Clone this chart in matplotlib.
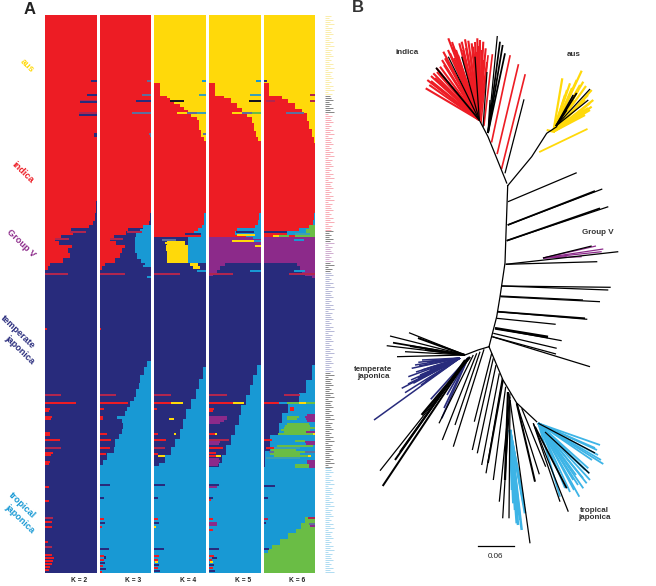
import matplotlib
matplotlib.use('Agg')
import matplotlib.pyplot as plt

plt.rcParams['font.family'] = ['Liberation Sans', 'DejaVu Sans']

W, H = 656, 586
RED = '#ED1C24'
NAVY = '#282B7C'
BLUE = '#1899D4'
YEL = '#FFD90A'
PUR = '#8C2A8A'
GRN = '#6ABD45'
CRIM = '#B0264F'
GRAY = '#5F6F9C'
TEAL = '#3BA0B4'
BLK = '#15151F'
SKY = '#3DB4E6'

N_ROWS = 279
k_labels = ['K = 2', 'K = 3', 'K = 4', 'K = 5', 'K = 6']
panel_left = [45, 99.7, 154.3, 209, 263.7]

# red/navy edge at the indica - group V end
k2_rows = [0, 93, 99, 103, 105, 106.7, 108.3, 110, 111.7, 113.3, 115, 116.7, 119, 121.7, 124, 125.8, 127.5]
k2_edge = [1, .99, .97, .93, .86, .5, .55, .32, .2, .28, .52, .45, .48, .35, .1, .05]
k3_edge = [1, .99, .97, .95, .88, .55, .52, .28, .2, .32, .5, .43, .4, .3, .1, .04]

# red and yellow edges, K=4..6
k4_red_rows = [40.5, 41.5, 43, 44.5, 46, 47.5, 49, 51, 52.5, 57.5, 61, 63.3, 111]
k4_red_edge = [.25, .3, .38, .5, .57, .65, .72, .82, .87, .91, .96, 1]
k5_red_rows = [40.5, 41.5, 44, 46.5, 49, 51, 54, 58, 61, 63.3, 111]
k5_red_edge = [.3, .42, .54, .64, .74, .83, .88, .92, .95, 1]
k6_red_rows = [40.5, 42, 44, 47, 49, 53, 57, 61, 64, 111]
k6_red_edge = [.35, .48, .61, .74, .84, .87, .93, .97, 1]

# low end of the red block, right side
red_end_rows = [92.5, 99, 102.5, 105, 106.7, 108.3, 110, 111]
k4_red_end = [1, .97, .96, .92, .84, .78, .9]
k5_red_end = [1, .97, .96, .9, .55, .5, .72]
k6_red_end = [1, .97, .95, .9, .68, .45, .7]

# navy/blue edge in the temperate japonica block
k3_blue_rows = [171, 173, 176, 180, 184, 187, 191, 193, 196, 198, 200.5, 202, 204, 207, 209.5, 212, 216, 219, 222.5, 225]
k3_blue_edge = [1, .92, .86, .79, .76, .71, .66, .59, .53, .5, .33, .43, .46, .43, .37, .3, .27, .14, .06]
k4_blue_rows = [171, 176, 182, 187, 192, 197, 202, 207, 212, 216, 220, 224, 225.5]
k4_blue_edge = [1, .95, .86, .8, .72, .62, .55, .5, .4, .33, .2, .1]
k5_blue_rows = [171, 175, 180, 185, 190, 195, 200, 205, 210, 215, 220, 224, 226]
k5_blue_edge = [1, .93, .85, .8, .72, .63, .58, .5, .42, .33, .25, .2]
k6_blue_rows = [171, 175, 182.5, 189, 194, 199, 204, 210, 218, 226]
k6_blue_edge = [1, .93, .82, .68, .48, .35, .29, .13, .03]

# green block at the bottom of K=6
k6_green_rows = [251, 254, 257, 259, 262, 265, 267, 269]
k6_green_edge = [.8, .72, .62, .48, .32, .17, .09]

# purple shoulder, K=5 left and K=6 right
k5_purple_rows = [111, 124, 125.8, 127.5, 129, 130.5]
k5_purple_edge = [1, .31, .21, .15, .08]
k6_navy_rows = [124, 125.8, 127.5, 129, 130.5]
k6_navy_edge = [.64, .71, .74, .8]

# single accessions: row, from, to, colour
upper_k2 = [(32.8, .9, 1, NAVY), (39.7, .82, 1, NAVY), (42.5, .67, 1, CRIM), (43.3, .67, 1, NAVY),
            (48.8, .66, 1, CRIM), (49.6, .66, 1, NAVY), (59.2, .95, 1, NAVY), (60, .95, 1, NAVY),
            (108.3, .48, .8, CRIM), (111.7, .2, .46, CRIM), (129.2, 0, .45, CRIM)]
upper_k3 = [(32.8, .92, 1, GRAY), (39.7, .82, 1, GRAY), (42.5, .7, 1, NAVY), (48.8, .63, 1, GRAY),
            (59.2, .95, 1, GRAY), (60, .97, 1, GRAY), (108.3, .53, .82, CRIM), (111.7, .2, .46, CRIM),
            (129.2, 0, .5, CRIM), (130.5, .92, 1, BLUE), (125, .85, 1, BLUE)]
upper_k4 = [(32.8, .92, 1, BLUE), (39.7, .87, 1, TEAL), (42.5, .3, .58, BLK), (48.8, .44, .63, YEL),
            (48.8, .63, .82, GRAY), (48.8, .82, 1, TEAL), (59.2, .95, 1, GRAY), (112, .14, .43, GRAY),
            (113.5, .2, .55, YEL), (109, .6, .9, NAVY), (129.2, 0, .5, CRIM), (127.5, .82, 1, BLUE)]
upper_k5 = [(32.8, .92, 1, BLUE), (39.7, .8, 1, TEAL), (42.5, .77, 1, BLK), (48.8, .44, .64, YEL),
            (48.8, .64, .83, GRAY), (48.8, .83, 1, GRN), (108, .52, .87, NAVY), (109.8, .55, .9, YEL),
            (112.5, .44, .87, YEL), (112.5, .87, 1, BLUE), (111, .86, 1, BLUE), (115, .9, 1, YEL),
            (129.2, 0, .47, CRIM), (127.5, .8, 1, BLUE)]
upper_k6 = [(32.8, 0, .06, NAVY), (39.7, .9, 1, CRIM), (42.5, .05, .22, CRIM), (42.5, .9, 1, CRIM),
            (48.8, .44, .79, GRAY), (108, 0, .45, NAVY), (110, .18, .3, YEL), (110, .3, .5, GRN),
            (109, .6, .9, TEAL), (112, .58, .78, BLUE), (129.2, .5, 1, CRIM), (127.5, .58, .8, BLUE)]

lower_k2 = [(156.7, 0, .03, RED), (189.5, 0, .32, CRIM), (193.8, 0, .6, RED), (196.7, 0, .1, RED),
            (197.7, 0, .08, RED), (200.5, 0, .13, RED), (201.5, 0, .12, RED), (208.5, 0, .1, RED),
            (209.5, 0, .09, RED), (212, 0, .29, RED), (216, 0, .32, CRIM), (218.5, 0, .16, RED),
            (219.5, 0, .12, RED), (223, 0, .1, RED), (224, 0, .08, RED), (235.8, 0, .07, RED),
            (242.8, 0, .08, RED), (251, 0, .16, CRIM), (253.3, 0, .13, RED), (255.8, 0, .13, RED),
            (263.3, 0, .06, RED), (265.8, 0, .13, CRIM), (269.5, 0, .14, RED), (271, 0, .17, RED),
            (272.5, 0, .15, RED), (274, 0, .13, RED), (275.5, 0, .1, RED), (277, 0, .07, RED)]
lower_k3 = [(156.7, 0, .03, RED), (189.5, 0, .32, CRIM), (193.8, 0, .55, RED), (196.7, 0, .08, RED),
            (200.5, 0, .07, RED), (201.5, 0, .07, RED), (209, 0, .15, RED), (212, 0, .22, RED),
            (216, 0, .2, RED), (219, 0, .12, RED), (223, 0, .05, NAVY), (234.8, 0, .2, NAVY),
            (241, 0, .08, NAVY), (251.5, 0, .08, RED), (253.5, 0, .1, NAVY), (255.8, 0, .05, RED),
            (266.7, 0, .19, NAVY), (270, 0, .09, RED), (270.9, .09, .13, NAVY), (272, 0, .08, RED),
            (273.5, 0, .1, NAVY), (275, 0, .07, RED), (276.5, 0, .12, NAVY), (278, 0, .04, RED)]
lower_k4 = [(189.5, 0, .32, CRIM), (193.8, 0, .32, RED), (193.8, .32, .56, YEL), (196.7, 0, .06, RED),
            (201.5, .28, .38, YEL), (209, 0, .08, RED), (209, .38, .42, YEL), (212, 0, .22, RED),
            (216, 0, .2, CRIM), (219, 0, .08, RED), (220, .08, .2, YEL), (234.8, 0, .2, NAVY),
            (241, 0, .08, NAVY), (251.5, 0, .08, RED), (253.5, 0, .1, NAVY), (255.8, 0, .03, YEL),
            (266.7, 0, .19, NAVY), (270, 0, .09, RED), (272, 0, .08, RED), (273, .02, .08, YEL),
            (274.5, 0, .1, NAVY), (276, 0, .07, RED), (277.5, 0, .12, NAVY)]
lower_k5 = [(189.5, 0, .35, CRIM), (193.8, 0, .47, RED), (193.8, .47, .67, YEL), (196.7, 0, .1, RED),
            (197.7, 0, .08, RED), (200.5, 0, .35, PUR), (201.5, 0, .35, PUR), (202.5, 0, .3, PUR),
            (203.7, 0, .22, PUR), (209, 0, .12, RED), (209, .12, .15, YEL), (212, 0, .38, CRIM),
            (213.2, 0, .22, PUR), (214.2, 0, .2, PUR), (216, 0, .28, RED), (218.5, 0, .14, RED),
            (220, 0, .14, RED), (220, .14, .23, YEL), (221.7, 0, .2, PUR), (222.7, 0, .22, PUR),
            (223.7, 0, .2, PUR), (224.7, 0, .18, PUR), (234.8, 0, .19, NAVY), (235.8, 0, .15, PUR),
            (241, 0, .08, NAVY), (242, 0, .03, RED), (251.5, 0, .08, RED), (253.5, 0, .15, PUR),
            (254.6, 0, .15, PUR), (257, 0, .08, RED), (266.7, 0, .19, NAVY), (270, 0, .09, RED),
            (271, .06, .15, NAVY), (272, 0, .06, RED), (273, .02, .08, YEL), (274.5, 0, .1, NAVY),
            (276, 0, .07, RED), (277.5, 0, .12, NAVY)]
lower_k6 = [(189.7, .39, .71, CRIM), (193.8, 0, .29, RED), (193.8, .29, .45, BLUE), (193.8, .45, .68, GRN),
            (193.8, .68, .83, YEL), (193.8, .83, 1, GRN), (196.2, .52, .58, RED), (197.2, .52, .58, RED),
            (199.5, .84, 1, PUR), (200.5, .45, .68, GRN), (200.5, .8, 1, PUR), (201.5, .45, .65, GRN),
            (201.5, .82, 1, PUR), (202.5, .84, 1, PUR), (204.3, .45, .88, GRN), (205.3, .42, .9, GRN),
            (206.3, .4, 1, GRN), (207.3, .33, .9, GRN), (208.3, .39, .82, GRN), (208.3, .82, 1, PUR),
            (209.3, .28, .95, GRN), (209.3, .95, 1, YEL), (212, 0, .16, RED), (212.8, .6, .8, GRN),
            (213, .8, 1, PUR), (214, .82, 1, PUR), (215.3, .25, .95, GRN), (216.3, .05, .2, RED),
            (216.3, .2, .7, TEAL), (217.3, .15, .62, GRN), (218.3, .1, .2, GRAY), (218.3, .2, .8, GRN),
            (218.3, .8, 1, GRAY), (219.3, .12, .7, GRN), (220.3, .2, .86, GRN), (220.3, .86, .92, YEL),
            (221.3, .05, .7, TEAL), (222.5, .84, 1, PUR), (223.5, .85, 1, PUR), (224.5, .61, .87, GRN),
            (224.5, .87, 1, PUR), (225.5, .61, .87, GRN), (225.5, .87, 1, PUR), (235, 0, .22, NAVY),
            (241.2, 0, .08, NAVY), (251, .86, 1, CRIM), (252.5, .9, 1, GRN), (254, .88, 1, GRAY),
            (255, .9, 1, PUR), (251.5, 0, .09, CRIM), (253.5, 0, .05, NAVY), (266.7, 0, .11, NAVY)]

# tree B, branch ends in figure pixels
spine_x = [507.7, 506, 505, 500, 496.7, 489]
spine_y = [185.7, 233, 263, 296.7, 316.7, 346.7]
aus_stem_x = [507.7, 531.7, 546.7, 556.7]
aus_stem_y = [185.7, 156.7, 133.3, 126.7]
indica_stem_x = [506.7, 488, 479.3]
indica_stem_y = [183, 136.7, 120]
trop_stem_x = [489, 503, 516.7, 536.7]
trop_stem_y = [346.7, 380, 403, 421.7]
temp_stem_x = [489, 478, 465]
temp_stem_y = [346.7, 350, 355]

# branch: base x, base y, tip x, tip y, width
black_branches = [
    (508, 201.7, 576.7, 172.7, 1), (507.7, 225, 602.3, 189, 1), (507.7, 225, 595, 191, 1.4),
    (506.7, 240.7, 608.3, 206.7, 1), (506.7, 240.7, 600, 208.3, 1.4), (505.7, 264.3, 618.3, 251.7, 1),
    (505.7, 264.3, 597.3, 261.7, 1), (543, 258, 591.7, 246, 1), (501.7, 286, 610.7, 287.3, 1),
    (501.7, 286, 608.3, 290, 1), (500, 296, 583, 300, 1), (500.7, 296.7, 600, 301.7, 1),
    (497.7, 311.7, 587.3, 319.3, 1), (497.7, 311.7, 585, 318.3, 1.4), (496.7, 318.3, 555.7, 324.3, 1),
    (495, 328.3, 561.7, 340.7, 1), (495, 328.3, 548, 337, 2.2), (493.3, 333.3, 556.7, 348.3, 1),
    (492.3, 336.7, 590, 366.7, 1), (492.3, 336.7, 556, 354, 1),
    (473.3, 355, 439, 423.3, 1), (476.7, 353.3, 442.3, 440, 1), (480, 351.7, 455, 425, 1),
    (484, 349.3, 453.3, 446.7, 1), (470, 357, 380, 470.7, 1), (468, 358, 382.7, 486, 1.6),
    (465, 360, 395, 460, 1.6), (466, 360, 400, 452, 1.6), (470, 357, 421.7, 415, 2),
    (491.7, 353.3, 474.3, 421.7, 1), (493.3, 358.3, 472.3, 450, 1), (496, 365, 477.3, 453.3, 1),
    (499.3, 373.3, 481.7, 465, 1), (502.3, 378.3, 486, 473.3, 1), (503, 380, 488, 463, 1.4),
    (505.7, 386.7, 493.3, 480, 1), (510, 393.3, 499.3, 501.7, 1), (510, 396.7, 502.7, 518.3, 1),
    (510, 400, 509, 518.3, 1), (510, 400, 530, 543.3, 1), (508, 392, 505, 480, 1.8),
    (516.7, 403.3, 539.3, 474.3, 1), (516.7, 403.3, 535, 481.7, 1.6), (521.7, 408.3, 545.7, 466.7, 1),
    (533.3, 423.3, 568.3, 511.7, 1), (533.3, 423.3, 560, 501.7, 1), (535, 426.7, 566.7, 488.3, 1.4),
    (465, 355, 409, 332.7, 1), (465, 355, 390, 336, 1), (465, 355, 393, 342.7, 1.4),
    (465, 355, 386.7, 345.7, 1), (465, 355, 405, 351.7, 1), (465, 355, 397, 356.7, 1),
    (465, 355, 418, 338, 1.6), (465, 355, 410, 346, 1.6), (465, 355, 425, 350, 1.4),
    (488, 133, 497.3, 36, 1), (488, 133, 500, 41.7, 1.4), (488, 133, 502.7, 45, 1.4), (488, 133, 505, 53.3, 1.4),
    (488, 133, 490, 100, 1), (483, 127, 487, 72, 1), (505, 173.3, 524, 99.3, 1),
    (479.3, 120, 436, 67.7, 1.4), (479.3, 120, 448.3, 56.7, 1), (479.3, 120, 461.7, 56.7, 1),
    (479.3, 120, 475, 56.7, 1), (538.3, 423.3, 595, 453, 1), (545, 432, 589.3, 473.3, 1),
    (556, 126, 590, 89, 1), (556, 126, 588.3, 100, 1), (556, 126, 576.7, 93, 1.4),
    (556, 126, 573.3, 95, 1.4), (556, 126, 566.7, 110, 1.4),
]

indica_x = [425.7, 427.3, 429.3, 431, 433.3, 435, 431, 436.7, 437, 440, 440, 443.3, 444, 445, 447, 442, 448.3,
            448, 450, 452, 453.3, 456, 454, 458, 459.3, 461.7, 463, 465, 466, 468.3, 470, 471.7, 473.3, 475,
            476, 477.3, 479, 480, 482, 483.3, 484, 485.7, 487]
indica_y = [88.3, 80, 85, 81, 73.3, 78, 76, 68.3, 72, 66.7, 73, 51.7, 65, 58.3, 60, 60, 38.3,
            50, 53.3, 42, 46.7, 50, 58, 55, 43.3, 41.7, 50, 39.3, 48, 40.7, 52, 43.3, 46.7, 42,
            52, 38.3, 46, 40, 50, 41.7, 60, 48.3, 62]
# long single red branches
red_long = [(491.7, 141.7, 510, 56), (497.3, 153.3, 518.3, 65), (501.7, 168.3, 525, 75),
            (484, 125, 492.3, 55), (481, 122, 488, 56)]

aus_x = [546.7, 562.3, 565, 567, 570, 570, 572, 574, 575, 576.7, 578.3, 580, 580, 581.7, 583.3, 584, 585, 585,
         586, 588, 588, 590, 590, 591.7, 591.7, 593.3]
aus_y = [130, 78.3, 95, 90, 83.3, 105, 88, 100, 95, 80, 90, 85, 112, 70.7, 81.7, 110, 100, 115,
         86, 95, 108, 103, 110, 90, 106.7, 100]
aus_long = (586.7, 129.3, 540, 151.7)

purple_x = [596, 603.3, 601.7, 581.7, 566.7]
purple_y = [246, 249, 251.7, 256.7, 256.7]

navy_x = [418.3, 411.7, 415, 408.3, 420, 401.7, 405, 413.3, 425, 374, 422, 430, 419, 416, 411, 418, 422, 424, 427, 421, 408, 428]
navy_y = [362.3, 368.3, 365, 376.7, 375, 388.3, 392.7, 383.3, 381.7, 420, 360, 370, 366, 372, 380, 378, 370, 377, 362, 385, 384, 375]
navy2_x = [441.7, 430.7, 444, 447]
navy2_y = [418.3, 399.3, 408, 395]

trop_x = [521.7, 516.7, 525, 513.3, 522.7, 519, 518, 512, 515, 520, 524, 517]
trop_y = [530, 523.3, 513.3, 503.3, 496.7, 515, 525, 490, 510, 520, 505, 500]
trop2_x = [600, 603.3, 589.3, 586.7, 583.3, 579.3, 573.3, 588.3, 560, 597, 592, 576, 595, 598, 601, 585, 583, 578, 574, 570, 565, 590]
trop2_y = [445, 464, 473.3, 483.3, 488.3, 496.7, 480, 468.3, 496.7, 450, 460, 475, 448, 455, 460, 470, 478, 485, 490, 492, 488, 480]

name_groups = [(15, 95, '#F9E68A'), (95, 113, '#555555'), (113, 230, '#F58C98'), (230, 242, '#555555'),
               (242, 262, '#BC8CBC'), (262, 272, '#555555'), (272, 372, '#9A9CC8'), (372, 467, '#555555'),
               (467, 573, '#8FCDEB')]
name_lengths = [6, 4, 8, 5, 9, 3, 7, 5, 6, 8, 4]

side_labels = ['aus', 'indica', 'Group V', 'temperate', 'japonica', 'tropical', 'japonica']
side_x = [27, 23, 21, 18, 20, 22, 20]
side_y = [66, 172, 243, 332, 350, 505, 519]
side_col = [YEL, RED, PUR, NAVY, NAVY, BLUE, BLUE]


def strip(ax, colour, rows, left, right):
    n = len(rows) - 1
    lefts = left if isinstance(left, list) else [left] * n
    rights = right if isinstance(right, list) else [right] * n
    for i in range(n):
        ax.barh(rows[i], rights[i] - lefts[i], height=rows[i + 1] - rows[i], left=lefts[i],
                align='edge', color=colour, linewidth=0, antialiased=False)


def streaks(ax, items):
    for row, a, b, colour in items:
        ax.barh(row, b - a, height=1.1, left=a, align='edge', color=colour, linewidth=0, antialiased=False)


fig = plt.figure(figsize=(W / 100, H / 100), dpi=100)
axes = []
for lf in panel_left:
    ax = fig.add_axes([lf / W, 1 - 572.7 / H, 51.5 / W, 558.2 / H])
    ax.set_xlim(0, 1)
    ax.set_ylim(N_ROWS, 0)
    ax.axis('off')
    axes.append(ax)

# K=2
ax = axes[0]
strip(ax, NAVY, [0, N_ROWS], 0, 1)
strip(ax, RED, k2_rows, 0, k2_edge)
streaks(ax, upper_k2 + lower_k2)

# K=3
ax = axes[1]
strip(ax, NAVY, [0, N_ROWS], 0, 1)
strip(ax, RED, k2_rows, 0, k3_edge)
strip(ax, BLUE, [105, 107, 109, 111, 119, 122, 124, 126], [.85, .78, .7, .68, .72, .8, .88], 1)
strip(ax, BLUE, k3_blue_rows, k3_blue_edge, 1)
strip(ax, BLUE, [225, N_ROWS], 0, 1)
streaks(ax, upper_k3 + lower_k3)

# K=4
ax = axes[2]
strip(ax, NAVY, [0, N_ROWS], 0, 1)
strip(ax, YEL, [0, 64], 0, 1)
strip(ax, RED, [34, 40.5], 0, .11)
strip(ax, RED, k4_red_rows, 0, k4_red_edge)
strip(ax, BLUE, red_end_rows, k4_red_end, 1)
strip(ax, BLUE, [111, 124], .65, 1)
strip(ax, YEL, [113, 115, 118, 121, 124, 125.5, 127], [.25, .22, .25, .24, .7, .75], [.6, .65, .66, .65, .85, .88])
strip(ax, BLUE, k4_blue_rows, k4_blue_edge, 1)
strip(ax, BLUE, [225.5, N_ROWS], 0, 1)
streaks(ax, upper_k4 + lower_k4)

# K=5
ax = axes[3]
strip(ax, NAVY, [0, N_ROWS], 0, 1)
strip(ax, YEL, [0, 64], 0, 1)
strip(ax, RED, [34, 40.5], 0, .11)
strip(ax, RED, k5_red_rows, 0, k5_red_edge)
strip(ax, BLUE, red_end_rows, k5_red_end, 1)
strip(ax, PUR, k5_purple_rows, 0, k5_purple_edge)
strip(ax, BLUE, k5_blue_rows, k5_blue_edge, 1)
strip(ax, BLUE, [226, N_ROWS], 0, 1)
streaks(ax, upper_k5 + lower_k5)

# K=6
ax = axes[4]
strip(ax, NAVY, [0, N_ROWS], 0, 1)
strip(ax, YEL, [0, 64], 0, 1)
strip(ax, RED, [34, 40.5], 0, .11)
strip(ax, RED, k6_red_rows, 0, k6_red_edge)
strip(ax, BLUE, red_end_rows, k6_red_end, 1)
strip(ax, GRN, [105, 107, 109, 111], [.88, .82, .6], 1)
strip(ax, PUR, [111, 124], 0, 1)
strip(ax, PUR, k6_navy_rows, k6_navy_edge, 1)
strip(ax, PUR, [130.5, 131.5], .93, 1)
strip(ax, BLUE, k6_blue_rows, k6_blue_edge, 1)
strip(ax, BLUE, [226, 269], 0, 1)
strip(ax, GRN, k6_green_rows, k6_green_edge, 1)
strip(ax, GRN, [269, N_ROWS], 0, 1)
streaks(ax, upper_k6 + lower_k6)

# overlay in figure pixels for tree and text
top = fig.add_axes([0, 0, 1, 1])
top.set_xlim(0, W)
top.set_ylim(H, 0)
top.axis('off')
top.patch.set_alpha(0)

i = 0
for y0, y1, col in name_groups:
    y = y0 + .5
    while y < y1:
        top.plot([325.3, 325.3 + name_lengths[i % len(name_lengths)]], [y, y], color=col, lw=.5, solid_capstyle='butt')
        y += 2
        i += 1


def fan(bx, by, xs, ys, colour, lw=1.1):
    for x, yy in zip(xs, ys):
        top.plot([bx, x], [by, yy], color=colour, lw=lw, solid_capstyle='butt')


fan(479.3, 120, indica_x, indica_y, RED, 1.5)
for b in red_long:
    top.plot([b[0], b[2]], [b[1], b[3]], color=RED, lw=1.2)
fan(553.3, 131.7, aus_x, aus_y, YEL, 1.6)
top.plot([aus_long[0], aus_long[2]], [aus_long[1], aus_long[3]], color=YEL, lw=1.3)
fan(543, 258, purple_x, purple_y, PUR, .9)
fan(460, 358, navy_x, navy_y, NAVY, 1.1)
fan(468, 358, navy2_x, navy2_y, NAVY, 1.2)
fan(510, 430, trop_x, trop_y, SKY, 1.8)
fan(538.3, 423.3, trop2_x, trop2_y, SKY, 1.3)

for bx0, by0, tx, ty, w in black_branches:
    top.plot([bx0, tx], [by0, ty], color='black', lw=w * .9, solid_capstyle='butt')
for xs, ys in [(spine_x, spine_y), (aus_stem_x, aus_stem_y), (indica_stem_x, indica_stem_y),
               (trop_stem_x, trop_stem_y), (temp_stem_x, temp_stem_y)]:
    top.plot(xs, ys, color='black', lw=.9)

top.plot([478, 514], [546, 546], color='black', lw=.9)
top.text(496, 556, '0.06', fontsize=5.8, ha='center', va='center', color='#222222')

for name, x, yy in [('indica', 407, 52), ('aus', 574, 55), ('Group V', 598, 233)]:
    top.text(x, yy, name, fontsize=5.8, fontweight='bold', ha='center', va='center', color='#333333')
top.text(373, 373, 'temperate\njaponica', fontsize=5.8, fontweight='bold', ha='center', va='center',
         color='#333333', linespacing=1.1)
top.text(594, 514, 'tropical\njaponica', fontsize=5.8, fontweight='bold', ha='center', va='center',
         color='#333333', linespacing=1.1)

top.text(30, 9, 'A', fontsize=12, fontweight='bold', ha='center', va='center', color='#222222')
top.text(358, 8, 'B', fontsize=12, fontweight='bold', ha='center', va='center', color='#333333')

for name, x, yy, col in zip(side_labels, side_x, side_y, side_col):
    top.text(x, yy, name, fontsize=6.6, fontweight='bold', ha='center', va='center', color=col,
             rotation=-44, rotation_mode='anchor')

for lab, lf in zip(k_labels, panel_left):
    top.text(lf + 33.7, 580, lab, fontsize=4.8, fontweight='bold', ha='center', va='center', color='#222222')

fig.savefig('out.png', dpi=100)
